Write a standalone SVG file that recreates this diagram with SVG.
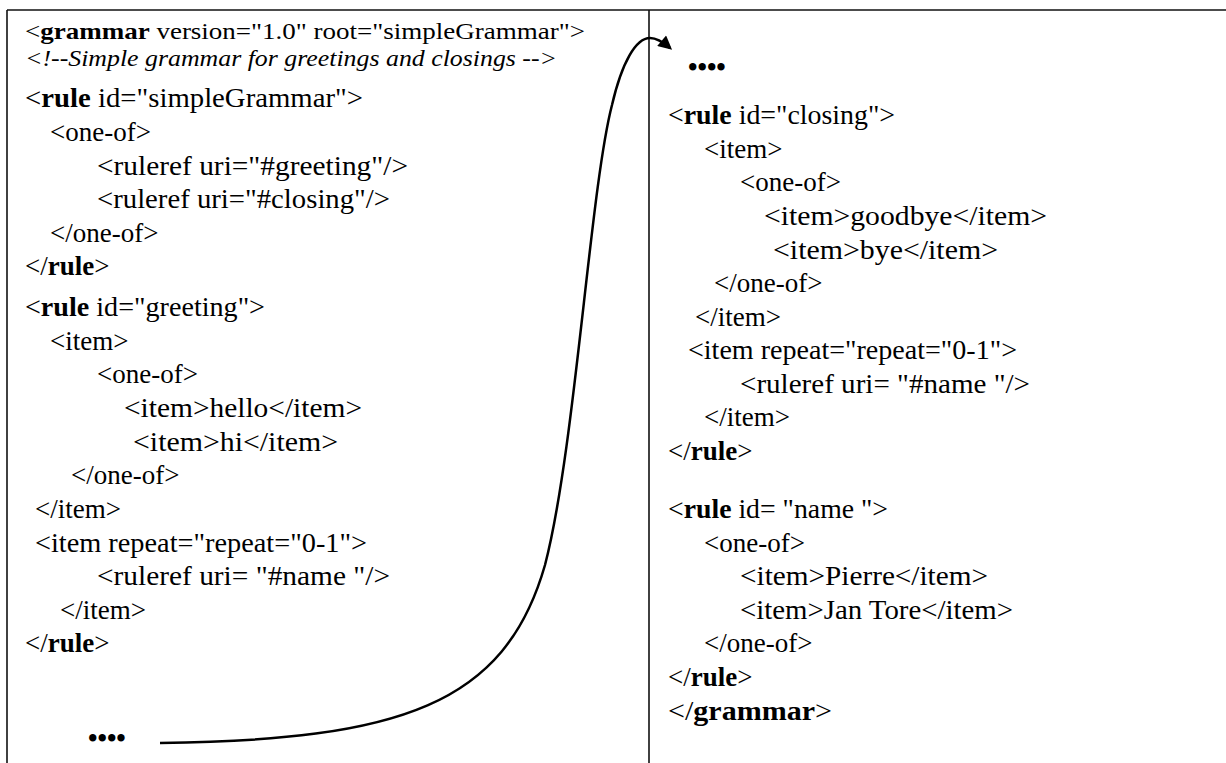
<svg xmlns="http://www.w3.org/2000/svg" width="1226" height="763" viewBox="0 0 1226 763">
<defs>
<style>
text{font-family:"Liberation Serif","Times New Roman",serif;font-size:27px;fill:#000}
.b{font-weight:bold}
.i{font-style:italic}
.hd{font-size:24px}
.frame{stroke:#111;stroke-width:1.6;fill:none}
.conn{stroke:#000;stroke-width:2.5;fill:none}
</style>
<marker id="ah" viewBox="0 0 10 10" refX="8" refY="5" markerWidth="6" markerHeight="5.5" orient="auto" markerUnits="strokeWidth">
<path d="M0,0 L10,5 L0,10 z" fill="#000"/>
</marker>
</defs>
<g id="frame">
<line class="frame" x1="7" y1="10" x2="1226" y2="10"/>
<line class="frame" x1="7" y1="10" x2="7" y2="763"/>
<line class="frame" x1="649" y1="10" x2="649" y2="763"/>
</g>
<g id="left-code">
<text x="25" y="39" class="hd" textLength="560" lengthAdjust="spacingAndGlyphs">&lt;<tspan class="b">grammar</tspan> version="1.0" root="simpleGrammar"&gt;</text>
<text x="25" y="66" class="hd i" textLength="532" lengthAdjust="spacingAndGlyphs">&lt;!--Simple grammar for greetings and closings --&gt;</text>
<text x="25" y="107" textLength="338" lengthAdjust="spacingAndGlyphs">&lt;<tspan class="b">rule</tspan> id="simpleGrammar"&gt;</text>
<text x="50" y="141">&lt;one-of&gt;</text>
<text x="97" y="175" textLength="311" lengthAdjust="spacingAndGlyphs">&lt;ruleref uri="#greeting"/&gt;</text>
<text x="97" y="208" textLength="293" lengthAdjust="spacingAndGlyphs">&lt;ruleref uri="#closing"/&gt;</text>
<text x="50" y="242">&lt;/one-of&gt;</text>
<text x="25" y="275">&lt;/<tspan class="b">rule</tspan>&gt;</text>
<text x="25" y="316" textLength="240" lengthAdjust="spacingAndGlyphs">&lt;<tspan class="b">rule</tspan> id="greeting"&gt;</text>
<text x="50" y="350">&lt;item&gt;</text>
<text x="97" y="383">&lt;one-of&gt;</text>
<text x="124" y="417" textLength="238" lengthAdjust="spacingAndGlyphs">&lt;item&gt;hello&lt;/item&gt;</text>
<text x="133" y="451" textLength="205" lengthAdjust="spacingAndGlyphs">&lt;item&gt;hi&lt;/item&gt;</text>
<text x="71" y="484">&lt;/one-of&gt;</text>
<text x="35" y="518">&lt;/item&gt;</text>
<text x="35" y="552" textLength="332" lengthAdjust="spacingAndGlyphs">&lt;item repeat="repeat="0-1"&gt;</text>
<text x="97" y="585" textLength="293" lengthAdjust="spacingAndGlyphs">&lt;ruleref uri= "#name "/&gt;</text>
<text x="60" y="619">&lt;/item&gt;</text>
<text x="25" y="652">&lt;/<tspan class="b">rule</tspan>&gt;</text>
<text x="88" y="747" class="b" font-size="25">••••</text>
</g>
<g id="right-code">
<text x="688" y="76" class="b" font-size="25">••••</text>
<text x="668" y="124" textLength="227" lengthAdjust="spacingAndGlyphs">&lt;<tspan class="b">rule</tspan> id="closing"&gt;</text>
<text x="704" y="158">&lt;item&gt;</text>
<text x="740" y="191">&lt;one-of&gt;</text>
<text x="764" y="225" textLength="283" lengthAdjust="spacingAndGlyphs">&lt;item&gt;goodbye&lt;/item&gt;</text>
<text x="773" y="259" textLength="225" lengthAdjust="spacingAndGlyphs">&lt;item&gt;bye&lt;/item&gt;</text>
<text x="714" y="292">&lt;/one-of&gt;</text>
<text x="695" y="326">&lt;/item&gt;</text>
<text x="688" y="359" textLength="329" lengthAdjust="spacingAndGlyphs">&lt;item repeat="repeat="0-1"&gt;</text>
<text x="740" y="393" textLength="290" lengthAdjust="spacingAndGlyphs">&lt;ruleref uri= "#name "/&gt;</text>
<text x="704" y="426">&lt;/item&gt;</text>
<text x="668" y="460">&lt;/<tspan class="b">rule</tspan>&gt;</text>
<text x="668" y="518" textLength="220" lengthAdjust="spacingAndGlyphs">&lt;<tspan class="b">rule</tspan> id= "name "&gt;</text>
<text x="704" y="552">&lt;one-of&gt;</text>
<text x="740" y="585" textLength="248" lengthAdjust="spacingAndGlyphs">&lt;item&gt;Pierre&lt;/item&gt;</text>
<text x="740" y="619" textLength="273" lengthAdjust="spacingAndGlyphs">&lt;item&gt;Jan Tore&lt;/item&gt;</text>
<text x="704" y="652">&lt;/one-of&gt;</text>
<text x="668" y="686">&lt;/<tspan class="b">rule</tspan>&gt;</text>
<text x="668" y="720" textLength="164" lengthAdjust="spacingAndGlyphs">&lt;/<tspan class="b">grammar</tspan>&gt;</text>
</g>
<g id="connectors">
<path class="conn" marker-end="url(#ah)" d="M160,743 C400,740 505,705 545,565 C575,450 590,190 612,105 C622,62 636,38 650,38 C657,38 663,42 670,48"/>
</g>
</svg>
